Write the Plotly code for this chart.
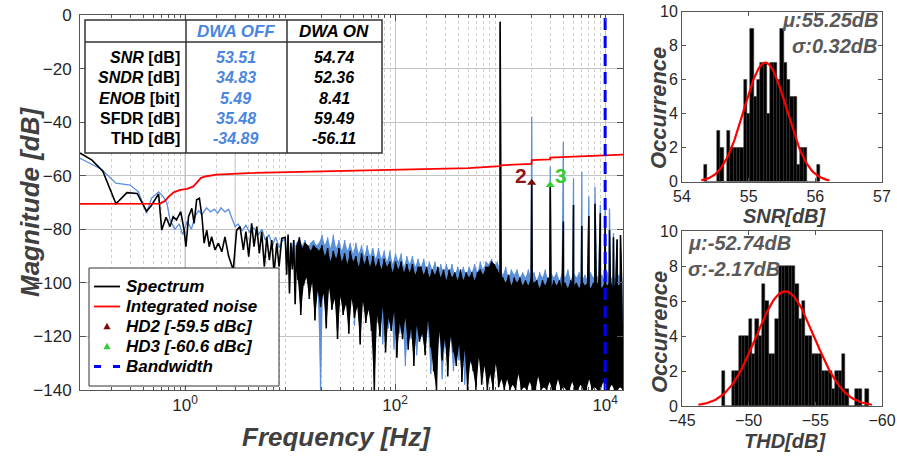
import numpy as np
import plotly.graph_objects as go

W, H = 897, 456
FONT = "Liberation Sans, Arial, sans-serif"

# ---------------- spectrum data (Hz, dB) ----------------
blk_lf_f = [0.1, 0.13, 0.165, 0.22, 0.28, 0.35, 0.43, 0.475, 0.56, 0.60, 0.66, 0.72, 0.77, 0.83, 0.91,
            0.98, 1.02, 1.08, 1.16, 1.22, 1.29, 1.37, 1.45, 1.52, 1.61, 1.70, 1.79, 1.93, 2.08, 2.24,
            2.40, 2.6, 2.88, 3.1, 3.34, 3.59, 3.8, 4.04, 4.31, 4.54, 4.82, 5.1, 5.37, 5.69, 6.0,
            6.35, 6.7, 7.04, 7.47, 7.86, 8.33]
blk_lf_db = [-51.5, -54.2, -58.3, -70.5, -66.3, -66.6, -73.2, -71.3, -66.8, -80.3, -75.5, -79, -75.3, -76.5, -73.4,
             -80.3, -86.5, -75.3, -72.2, -77.8, -69, -68.4, -75.3, -85.2, -80.3, -86.5, -82.8, -87.7, -85.2, -88.4,
             -82.8, -90, -95.2, -80.3, -79, -87.7, -80.9, -90.2, -77.8, -86.5, -79, -89, -80.9, -94, -82.8,
             -91.5, -84, -96.4, -85.2, -94, -83.4]

blu_lf_f = [0.1, 0.16, 0.22, 0.30, 0.36, 0.43, 0.48, 0.56, 0.62, 0.67, 0.72, 0.8, 0.88, 0.95, 1.05,
            1.15, 1.25, 1.35, 1.45, 1.6, 1.75, 1.9, 2.05, 2.2, 2.4, 2.6, 2.8, 3.0, 3.2, 3.5,
            3.8, 4.1, 4.5, 5.0, 5.4, 5.8, 6.3, 6.8, 7.3, 7.9, 8.5]
blu_lf_db = [-53.5, -57.6, -62.8, -63.5, -66, -74, -68.4, -66, -67.8, -70, -76.5, -80, -78, -82, -77,
             -80, -75, -73, -74.5, -72, -73.5, -72.5, -74, -72, -73.5, -72.5, -76, -79, -78, -80.5,
             -78.5, -81, -79.5, -82, -80, -84, -82, -86, -83, -87, -84]

# dense part of the spectrum (9 Hz ... 14.8 kHz), read as alternating upper / lower excursions
dense_f_start, dense_f_stop = 9.0, 14800.0
blk_dense_db = [
    -83, -97, -82, -104, -85, -95, -84, -108, -86, -99, -83, -112, -87, -101, -85, -98, -86, -106, -88, -100,
    -86, -114, -87, -103, -88, -109,
    -86, -104, -90, -117, -87, -102, -92, -110, -88, -106, -91, -121, -87, -105, -92, -112, -89, -108,
    -93, -119, -88, -106, -92, -113, -90, -109, -94, -123, -89, -107, -93, -115, -90, -110, -94, -118,
    -90, -140, -94, -112, -91, -120, -95, -109, -91, -126, -94, -113, -92, -118, -96, -111, -92, -128,
    -95, -115, -92, -121, -96, -113, -93, -125, -96, -117, -93, -131, -97, -116, -94, -122,
    -94, -119, -97, -127, -94, -114, -98, -124, -95, -133, -97, -140, -94, -118, -98, -129, -95, -121,
    -99, -135, -95, -120, -98, -126, -96, -131, -99, -123, -95, -137, -99, -125, -96, -140, -98, -129,
    -96, -133, -99, -140, -96, -128, -95, -138, -97, -131, -94, -140, -94, -134, -92, -140, -93, -130,
    -95, -139, -97, -136,
    -98, -140, -100, -136, -97, -140, -101, -138, -98, -140, -100, -134, -98, -140, -101, -139, -99, -140,
    -101, -137, -98, -140, -100, -140, -99, -135, -102, -140, -99, -139, -101, -140, -98, -137, -102, -140,
    -99, -140, -101, -136, -99, -140, -102, -139, -100, -140, -102, -140, -99, -137, -101, -140, -100, -140,
    -102, -138, -99, -140, -101, -140, -100, -136, -102, -140, -100, -139, -101, -140, -99, -140, -102, -137,
    -100, -140, -101, -140, -99, -138, -102, -140, -100, -140, -101, -139, -100, -140]
blu_dense_db = [
    -84, -92, -83, -97, -86, -90, -84, -99, -85, -93, -83, -101, -86, -94, -84, -98, -87, -92, -85, -100,
    -84, -95, -86, -103, -85, -140,
    -82, -97, -86, -104, -83, -99, -87, -110, -82, -101, -87, -118, -84, -103, -88, -112, -84, -105,
    -88, -109, -85, -102, -89, -116, -85, -104, -89, -111, -86, -106, -90, -113, -86, -107, -90, -110,
    -87, -108, -91, -115, -87, -106, -91, -123, -88, -110, -92, -117, -88, -112, -93, -125, -89, -113,
    -92, -119, -89, -114, -94, -131, -90, -116, -93, -121, -90, -115, -94, -127, -91, -118,
    -94, -120, -91, -126, -95, -117, -92, -134, -95, -122, -92, -128, -96, -119, -93, -136, -96, -123,
    -93, -127, -96, -121, -93, -133, -97, -125, -94, -129, -97, -122, -94, -138, -97, -126, -94, -130,
    -96, -128, -93, -135, -96, -126, -92, -132, -95, -129, -92, -137, -93, -127, -91, -134, -94, -130,
    -92, -136, -95, -131,
    -97, -130, -94, -127, -98, -133, -95, -128, -97, -131, -95, -126, -98, -134, -96, -129, -98, -132,
    -95, -127, -98, -130, -96, -135, -99, -128, -96, -131, -98, -129, -95, -133, -99, -127, -96, -130,
    -98, -134, -96, -128, -99, -131, -96, -129, -98, -133, -95, -127, -99, -130, -96, -135, -98, -128,
    -96, -132, -99, -129, -97, -131, -99, -134, -96, -128, -98, -130, -96, -133, -99, -129, -97, -131,
    -99, -127, -96, -134, -99, -130, -97, -132, -99, -128, -97, -131, -99, -133]

harm_f = [1000, 2000, 3000, 4000, 5000, 6000, 7000, 8000, 9000, 10000, 11000, 12000, 13000, 14000]
blk_harm_db = [-2.5, -62.6, -63.5, -77.1, -70.9, -78.8, -75.0, -70.5, -74.0, -76.0, -80.3, -83.0, -83.7, -82.1]
blu_harm_db = [-2.5, -37.9, -56.6, -47.3, -61.0, -58.5, -67.8, -64.1, -70.9, -71.5, -72.2, -81.5, -84.0, -87.1]

noise_f = [0.1, 0.58, 0.64, 0.7, 0.78, 0.9, 1.05, 1.2, 1.3, 1.42, 1.6, 2.0, 4, 12, 24, 100, 500,
           990, 1000, 1990, 2000, 2990, 3000, 5000, 10000, 14800]
noise_db = [-70.5, -70.4, -69.5, -67.8, -66.2, -65.3, -64.9, -64.0, -62.5, -60.8, -60.2, -59.6, -59.0,
            -58.6, -58.2, -57.8, -57.2, -56.4, -56.1, -55.6, -54.2, -53.9, -53.2, -52.9, -52.4, -52.1]

hd2_f, hd2_db = 2000, -62.6
hd3_f, hd3_db = 3000, -63.5
bandwidth_f = 10000

legend_labels = ["Spectrum", "Integrated noise", "HD2 [-59.5 dBc]", "HD3 [-60.6 dBc]", "Bandwidth"]

# ---------------- table ----------------
row_labels = ["<b><i>SNR</i> [dB]</b>", "<b><i>SNDR</i> [dB]</b>", "<b><i>ENOB</i> [bit]</b>",
              "<b>SFDR [dB]</b>", "<b>THD [dB]</b>"]
dwa_off = ["53.51", "34.83", "5.49", "35.48", "-34.89"]
dwa_on = ["54.74", "52.36", "8.41", "59.49", "-56.11"]

# ---------------- histograms ----------------
snr_centers = [54.35, 54.40, 54.45, 54.50, 54.55, 54.60, 54.65, 54.70, 54.75, 54.80, 54.85, 54.90,
               54.95, 55.00, 55.05, 55.10, 55.15, 55.20, 55.25, 55.30, 55.35, 55.40, 55.45, 55.50,
               55.55, 55.60, 55.65, 55.70, 55.75, 55.80, 55.85, 55.90, 55.95, 56.00, 56.05]
snr_counts = [1, 0, 0, 0, 3, 2, 0, 3, 2, 2, 2, 2, 6, 4, 9, 5, 6, 7, 7, 4, 7, 7, 6, 9,
              7, 6, 5, 5, 1, 2, 2, 0, 0, 0, 1]
snr_bin = 0.05
snr_mu, snr_sigma, snr_peak = 55.25, 0.32, 7.0

thd_centers = [-48.125, -48.375, -48.625, -48.875, -49.125, -49.375, -49.625, -49.875, -50.125, -50.375,
               -50.625, -50.875, -51.125, -51.375, -51.625, -51.875, -52.125, -52.375, -52.625, -52.875,
               -53.125, -53.375, -53.625, -53.875, -54.125, -54.375, -54.625, -54.875, -55.125, -55.375,
               -55.625, -55.875, -56.125, -56.375, -56.625, -56.875, -57.125, -57.375, -57.625, -57.875,
               -58.125, -58.375, -58.625, -58.875]
thd_counts = [2, 0, 0, 2, 2, 4, 4, 4, 5, 3, 5, 4, 7, 6, 3, 3, 5, 8, 8, 8, 8, 8, 7, 5, 6, 4, 4, 3, 3, 3,
              2, 2, 2, 1, 2, 2, 3, 1, 0, 0, 1, 1, 0, 1]
thd_bin = 0.25
thd_mu, thd_sigma, thd_peak = -52.74, 2.17, 6.55


# ---------------- helpers ----------------
def PX(x):
    return x / W


def PY(y):
    return 1 - y / H


def merged(lf_f, lf_db, dense_db, hf, hdb):
    df = np.geomspace(dense_f_start, dense_f_stop, len(dense_db))
    pts = list(zip(lf_f, lf_db)) + list(zip(df, dense_db)) + list(zip(hf, hdb))
    pts.sort(key=lambda p: p[0])
    return [p[0] for p in pts], [p[1] for p in pts]


def dense_band(dense_db, start=8):
    """Polygon enclosed by the upper and lower excursions of the dense spectrum."""
    df = np.geomspace(dense_f_start, dense_f_stop, len(dense_db))
    tx, ty = list(df[start::2]), dense_db[start::2]
    bx, by = list(df[start + 1::2]), dense_db[start + 1::2]
    return tx + bx[::-1], list(ty) + list(by[::-1])


blu_x, blu_y = merged(blu_lf_f, blu_lf_db, blu_dense_db, harm_f, blu_harm_db)
blk_x, blk_y = merged(blk_lf_f, blk_lf_db, blk_dense_db, harm_f, blk_harm_db)
blu_px, blu_py = dense_band(blu_dense_db)
blk_px, blk_py = dense_band(blk_dense_db)

BLUE_LINE = "#5b8fd9"
fig = go.Figure()

fig.add_trace(go.Scatter(x=blu_px, y=blu_py, mode="lines", fill="toself", fillcolor=BLUE_LINE,
                         line=dict(width=0, color=BLUE_LINE), showlegend=False, hoverinfo="skip"))
fig.add_trace(go.Scatter(x=blu_x, y=blu_y, mode="lines",
                         line=dict(color=BLUE_LINE, width=1.3, simplify=False),
                         showlegend=False, hoverinfo="skip"))
fig.add_trace(go.Scatter(x=blk_px, y=blk_py, mode="lines", fill="toself", fillcolor="black",
                         line=dict(width=0, color="black"), showlegend=False, hoverinfo="skip"))
fig.add_trace(go.Scatter(x=blk_x, y=blk_y, mode="lines",
                         line=dict(color="black", width=1.6, simplify=False),
                         name=legend_labels[0], showlegend=False))
fig.add_trace(go.Scatter(x=noise_f, y=noise_db, mode="lines", line=dict(color="#ff0000", width=1.8),
                         name=legend_labels[1], showlegend=False))
fig.add_trace(go.Scatter(x=[hd2_f], y=[hd2_db], mode="markers",
                         marker=dict(symbol="triangle-up", size=8, color="#7a0a0a"),
                         name=legend_labels[2], showlegend=False))
fig.add_trace(go.Scatter(x=[hd3_f], y=[hd3_db], mode="markers",
                         marker=dict(symbol="triangle-up", size=8, color="#33cc33"),
                         name=legend_labels[3], showlegend=False))
fig.add_trace(go.Scatter(x=[bandwidth_f, bandwidth_f], y=[-140, 0], mode="lines",
                         line=dict(color="#0000ff", width=3, dash="12px,6px"),
                         name=legend_labels[4], showlegend=False))

# histograms
fig.add_trace(go.Bar(x=snr_centers, y=snr_counts, width=snr_bin, marker=dict(color="black",
                     line=dict(color="#303030", width=0.5)), xaxis="x2", yaxis="y2", showlegend=False))
g1 = np.linspace(snr_mu - 3 * snr_sigma, snr_mu + 3 * snr_sigma, 120)
fig.add_trace(go.Scatter(x=g1, y=snr_peak * np.exp(-0.5 * ((g1 - snr_mu) / snr_sigma) ** 2), mode="lines",
                         line=dict(color="#ff0000", width=2.2), xaxis="x2", yaxis="y2", showlegend=False))
fig.add_trace(go.Bar(x=thd_centers, y=thd_counts, width=thd_bin, marker=dict(color="black",
                     line=dict(color="#303030", width=0.5)), xaxis="x3", yaxis="y3", showlegend=False))
g2 = np.linspace(thd_mu - 3 * thd_sigma, thd_mu + 3 * thd_sigma, 120)
fig.add_trace(go.Scatter(x=g2, y=thd_peak * np.exp(-0.5 * ((g2 - thd_mu) / thd_sigma) ** 2), mode="lines",
                         line=dict(color="#ff0000", width=2.2), xaxis="x3", yaxis="y3", showlegend=False))

minor_vals = [m * 10 ** e for e in range(-1, 5) for m in range(2, 10) if m * 10 ** e < 15000]
tickfont = dict(family=FONT, size=17, color="#262626")
hfont = dict(family=FONT, size=16, color="#262626")
axline = dict(showline=True, linecolor="#555555", linewidth=1, mirror="allticks", ticks="inside",
              zeroline=False, automargin=False)

fig.update_layout(
    template="none",
    width=W, height=H, margin=dict(l=0, r=0, t=0, b=0),
    paper_bgcolor="white", plot_bgcolor="white",
    font=dict(family=FONT),
    bargap=0, showlegend=False,
    xaxis=dict(type="log", range=[-1, 4.17], domain=[PX(80), PX(623)], anchor="y",
               tickmode="array", tickvals=[1, 100, 10000],
               ticktext=["10<sup>0</sup>", "10<sup>2</sup>", "10<sup>4</sup>"],
               ticklen=6, tickcolor="#555555", tickfont=tickfont,
               showgrid=True, gridcolor="#c4c4c4", gridwidth=1,
               minor=dict(tickvals=minor_vals, ticks="inside", ticklen=3, tickcolor="#555555",
                          showgrid=True, gridcolor="#cfcfcf", griddash="dot", gridwidth=1),
               **axline),
    yaxis=dict(range=[-140, 0], domain=[PY(390), PY(15)], anchor="x",
               tickmode="array", tickvals=list(range(-140, 1, 20)),
               ticklen=6, tickcolor="#555555", tickfont=tickfont, ticklabelstandoff=4,
               showgrid=True, gridcolor="#c4c4c4", gridwidth=1, **axline),
    xaxis2=dict(range=[54, 57], domain=[PX(682), PX(882)], anchor="y2",
                tickmode="array", tickvals=[54, 55, 56, 57], ticklen=4, tickcolor="#555555",
                tickfont=hfont, showgrid=False, **axline),
    yaxis2=dict(range=[0, 10], domain=[PY(181.7), PY(11.7)], anchor="x2",
                tickmode="array", tickvals=[0, 2, 4, 6, 8, 10], ticklen=4, tickcolor="#555555",
                tickfont=hfont, showgrid=False, **axline),
    xaxis3=dict(range=[-45, -60], domain=[PX(682), PX(882)], anchor="y3",
                tickmode="array", tickvals=[-45, -50, -55, -60], ticklen=4, tickcolor="#555555",
                tickfont=hfont, showgrid=False, **axline),
    yaxis3=dict(range=[0, 10], domain=[PY(406), PY(231)], anchor="x3",
                tickmode="array", tickvals=[0, 2, 4, 6, 8, 10], ticklen=4, tickcolor="#555555",
                tickfont=hfont, showgrid=False, **axline),
)


# ---------- decade grid lines (10^1, 10^3), table and legend box ----------
def pline(x0, y0, x1, y1, color, width, layer="above"):
    return dict(type="line", xref="paper", yref="paper", x0=PX(x0), x1=PX(x1), y0=PY(y0), y1=PY(y1),
                line=dict(color=color, width=width), layer=layer)


shapes = []
for dec in (10, 1000):
    shapes.append(dict(type="line", xref="x", yref="y", x0=np.log10(dec), x1=np.log10(dec), y0=-140, y1=0,
                       line=dict(color="#c4c4c4", width=1), layer="below"))
# table
shapes.append(dict(type="rect", xref="paper", yref="paper", x0=PX(85), x1=PX(382), y0=PY(153), y1=PY(20),
                   fillcolor="white", line=dict(color="#333333", width=1.5), layer="above"))
for xv in (186, 287):
    shapes.append(pline(xv, 153, xv, 20, "#333333", 1.5))
shapes.append(pline(85, 42, 382, 42, "#333333", 1.5))
# legend
LX0, LX1, LY0, LY1 = 89, 279, 268, 386
shapes.append(dict(type="rect", xref="paper", yref="paper", x0=PX(LX0), x1=PX(LX1), y0=PY(LY1), y1=PY(LY0),
                   fillcolor="white", line=dict(color="#333333", width=1), layer="above"))
ly = [286.5 + 20.0 * i for i in range(5)]
shapes.append(pline(94, ly[0], 120, ly[0], "black", 1.8))
shapes.append(pline(94, ly[1], 120, ly[1], "#ff0000", 1.8))
shapes.append(pline(94, ly[4], 101, ly[4], "#0000ff", 3))
shapes.append(pline(113, ly[4], 120, ly[4], "#0000ff", 3))


def tri(cx, cy, color, s=4.0):
    path = "M {:.5f},{:.5f} L {:.5f},{:.5f} L {:.5f},{:.5f} Z".format(
        PX(cx), PY(cy - s), PX(cx - s), PY(cy + s * 0.8), PX(cx + s), PY(cy + s * 0.8))
    return dict(type="path", xref="paper", yref="paper", path=path, fillcolor=color,
                line=dict(color=color, width=0.5), layer="above")


shapes.append(tri(107, ly[2], "#7a0a0a", 3.2))
shapes.append(tri(107, ly[3], "#33cc33", 3.2))
fig.update_layout(shapes=shapes)

BLUE_TXT = "#4a86e0"
ann = []


def txt(x, y, text, size, color="black", xanchor="center", weight="bold", style="italic", angle=0,
        yanchor="middle"):
    ann.append(dict(x=PX(x), y=PY(y), xref="paper", yref="paper", text=text, showarrow=False,
                    xanchor=xanchor, yanchor=yanchor, textangle=angle,
                    font=dict(family=FONT, size=size, color=color, weight=weight, style=style)))


for i, lab in enumerate(legend_labels):
    txt(124, ly[i], lab, 17, "black", xanchor="left")

txt(236, 31, "DWA OFF", 17, BLUE_TXT)
txt(334, 31, "DWA ON", 17, "black")
for i, (lab, a, b) in enumerate(zip(row_labels, dwa_off, dwa_on)):
    yy = 57.5 + 20.3 * i
    txt(182, yy, lab, 16, "black", xanchor="right", weight="normal", style="normal")
    txt(236, yy, a, 16, BLUE_TXT)
    txt(334, yy, b, 16, "black")

# HD labels
ann.append(dict(x=np.log10(hd2_f), y=hd2_db, xref="x", yref="y", text="2", showarrow=False,
                xanchor="right", yanchor="bottom", xshift=-3, yshift=-6,
                font=dict(family=FONT, size=21, color="#8b1a1a", weight="bold")))
ann.append(dict(x=np.log10(hd3_f), y=hd3_db, xref="x", yref="y", text="3", showarrow=False,
                xanchor="left", yanchor="bottom", xshift=3, yshift=-4,
                font=dict(family=FONT, size=21, color="#33cc33", weight="bold")))

# axis titles
txt(30, 202, "Magnitude [dB]", 26, "#404040", angle=-90)
txt(336, 437, "Frequency [Hz]", 26, "#404040")
txt(659, 108, "Occurrence", 22, "#404040", angle=-90)
txt(659, 332, "Occurrence", 22, "#404040", angle=-90)
txt(785, 216, "SNR[dB]", 20, "#404040")
txt(785, 441, "THD[dB]", 20, "#404040")

# histogram statistics
txt(880, 20, "μ:55.25dB", 20, "#595959", xanchor="right")
txt(880, 46, "σ:0.32dB", 20, "#595959", xanchor="right")
txt(686, 243, "μ:-52.74dB", 20, "#595959", xanchor="left")
txt(686, 269, "σ:-2.17dB", 20, "#595959", xanchor="left")

fig.update_layout(annotations=ann)
fig.write_html("out.html")
